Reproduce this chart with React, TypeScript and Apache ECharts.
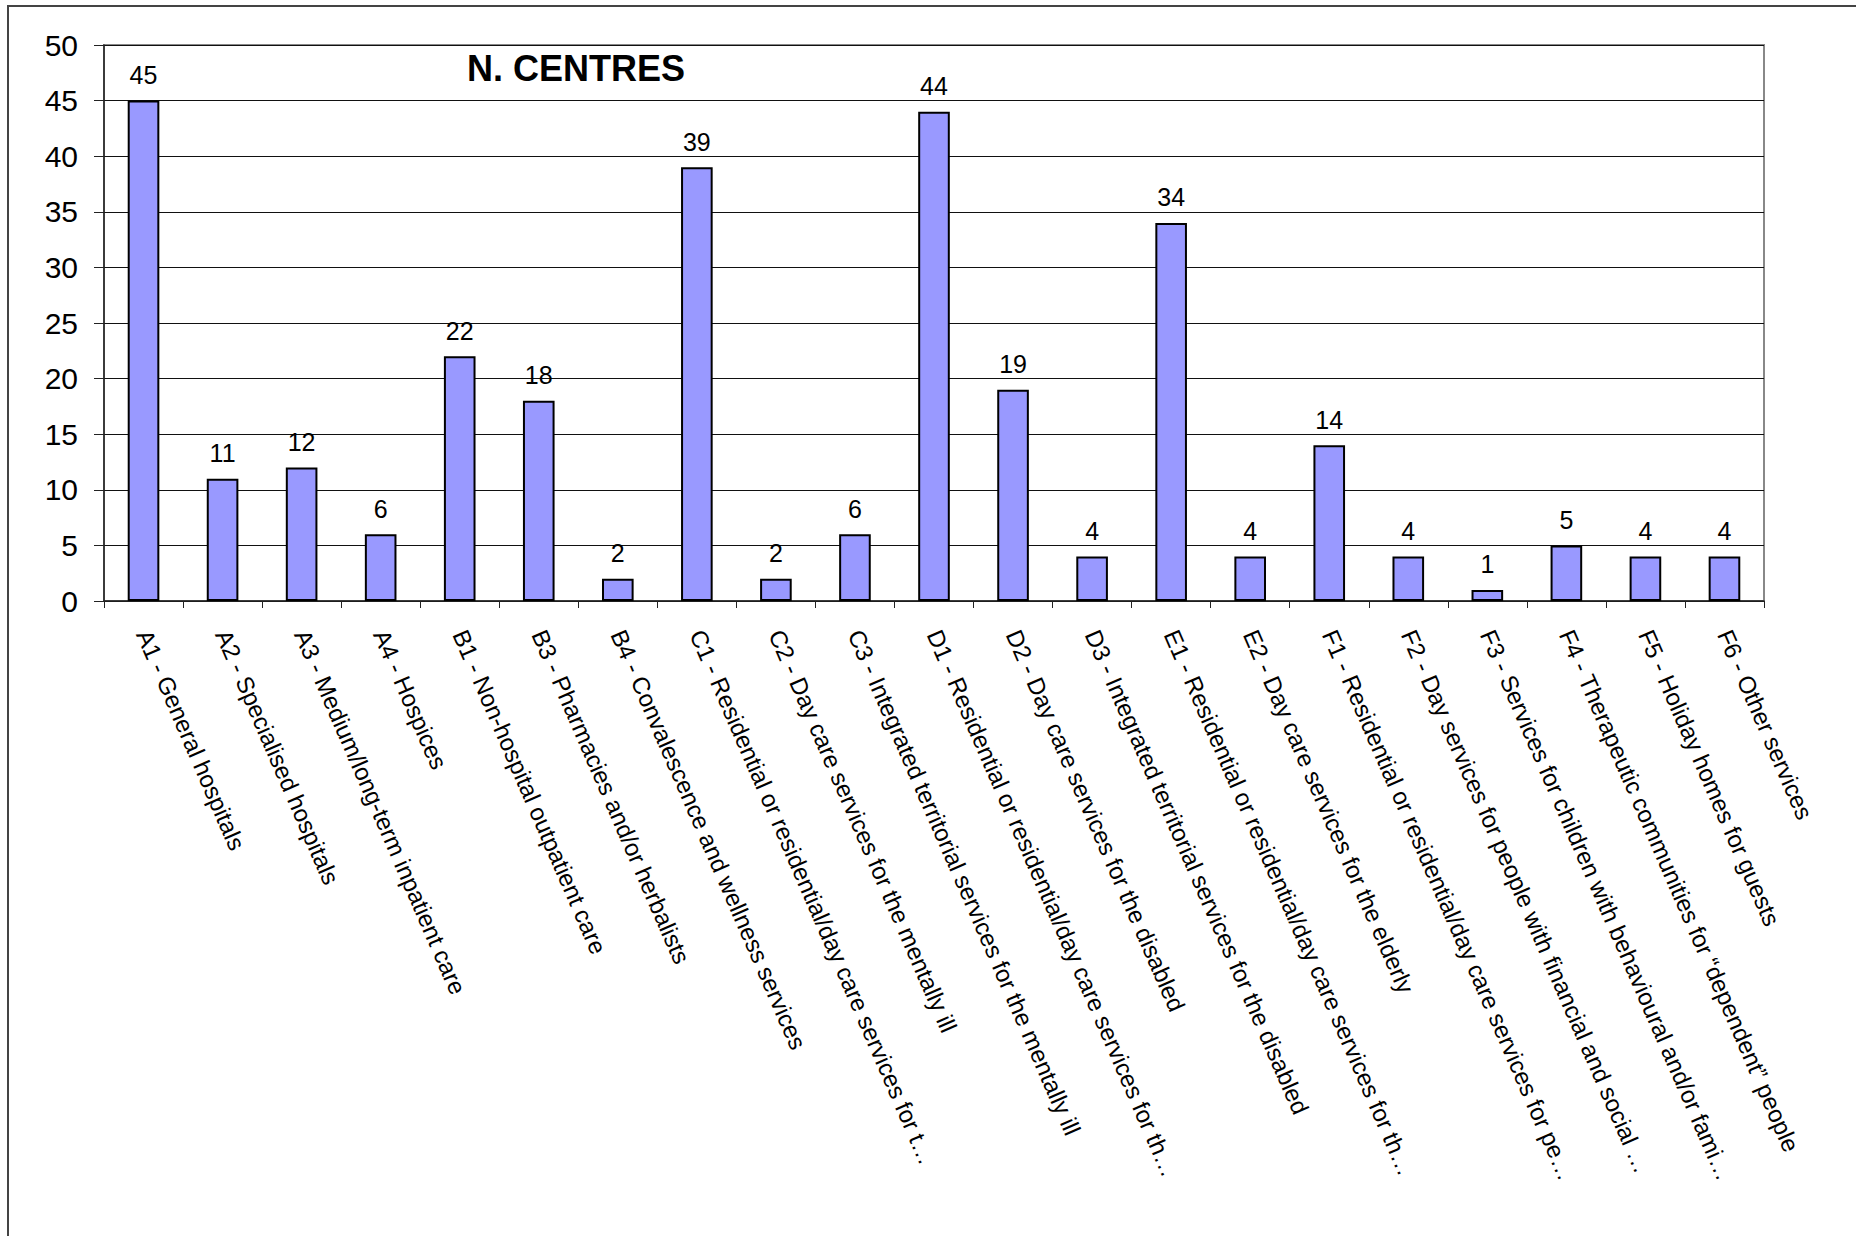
import React, { useEffect, useRef } from "react";
import * as echarts from "echarts";

const categories: string[] = [
  "A1 - General hospitals",
  "A2 - Specialised hospitals",
  "A3 - Medium/long-term inpatient care",
  "A4 - Hospices",
  "B1 - Non-hospital outpatient care",
  "B3 - Pharmacies and/or herbalists",
  "B4 - Convalescence and wellness services",
  "C1 - Residential or residential/day care services for t…",
  "C2 - Day care services for the mentally ill",
  "C3 - Integrated territorial services for the mentally ill",
  "D1 - Residential or residential/day care services for th…",
  "D2 - Day care services for the disabled",
  "D3 - Integrated territorial services for the disabled",
  "E1 - Residential or residential/day care services for th…",
  "E2 - Day care services for the elderly",
  "F1 - Residential or residential/day care services for pe…",
  "F2 - Day services for people with financial and social …",
  "F3 - Services for children with behavioural and/or fami…",
  "F4 - Therapeutic communities for \u201cdependent\u201d people",
  "F5 - Holiday homes for guests",
  "F6 - Other services",
];

const centres: number[] = [45, 11, 12, 6, 22, 18, 2, 39, 2, 6, 44, 19, 4, 34, 4, 14, 4, 1, 5, 4, 4];

const yTicks = { min: 0, max: 50, interval: 5 };
const chartTitle = "N. CENTRES";

const FONT = "'Liberation Sans', Arial, sans-serif";

export default function App() {
  const ref = useRef<HTMLDivElement>(null);
  useEffect(() => {
    if (!ref.current) return;
    const chart = echarts.init(ref.current, undefined, { renderer: "svg" });
    chart.setOption({
      animation: false,
      backgroundColor: "#ffffff",
      title: {
        text: chartTitle,
        left: 571,
        top: 45,
        textAlign: "center",
        textStyle: { fontFamily: FONT, fontWeight: "bold", fontSize: 36, color: "#000" },
      },
      graphic: [
        {
          type: "rect",
          shape: { x: 8, y: 6, width: 2000, height: 2000 },
          style: { fill: "none", stroke: "#444444", lineWidth: 2 },
          silent: true,
          z: 100,
        },
      ],
      grid: {
        left: 104,
        right: 92,
        top: 45,
        bottom: 635,
        show: true,
        borderColor: "#888888",
        borderWidth: 2,
        backgroundColor: "transparent",
      },
      xAxis: {
        type: "category",
        data: categories,
        boundaryGap: true,
        axisLine: { lineStyle: { color: "#222", width: 1.5 } },
        axisTick: { show: true, length: 7, lineStyle: { color: "#222" } },
        axisLabel: {
          interval: 0,
          rotate: -66.5,
          margin: 30,
          fontFamily: FONT,
          fontSize: 24,
          color: "#000",
        },
        splitLine: { show: false },
      },
      yAxis: {
        type: "value",
        min: yTicks.min,
        max: yTicks.max,
        interval: yTicks.interval,
        axisLine: { show: true, lineStyle: { color: "#222", width: 1.5 } },
        axisTick: { show: true, length: 10, lineStyle: { color: "#222" } },
        axisLabel: { fontFamily: FONT, fontSize: 30, color: "#000", margin: 26 },
        splitLine: { show: true, lineStyle: { color: "#111", width: 1 } },
      },
      series: [
        {
          type: "bar",
          data: centres,
          barWidth: "40%",
          itemStyle: { color: "#9999FF", borderColor: "#000", borderWidth: 2 },
          label: {
            show: true,
            position: "top",
            distance: 13,
            fontFamily: FONT,
            fontSize: 25,
            color: "#000",
          },
        },
      ],
    });
    return () => chart.dispose();
  }, []);
  return (
    <div
      ref={ref}
      style={{ position: "fixed", left: 0, top: 0, width: 1856, height: 1236, background: "#fff" }}
    />
  );
}
